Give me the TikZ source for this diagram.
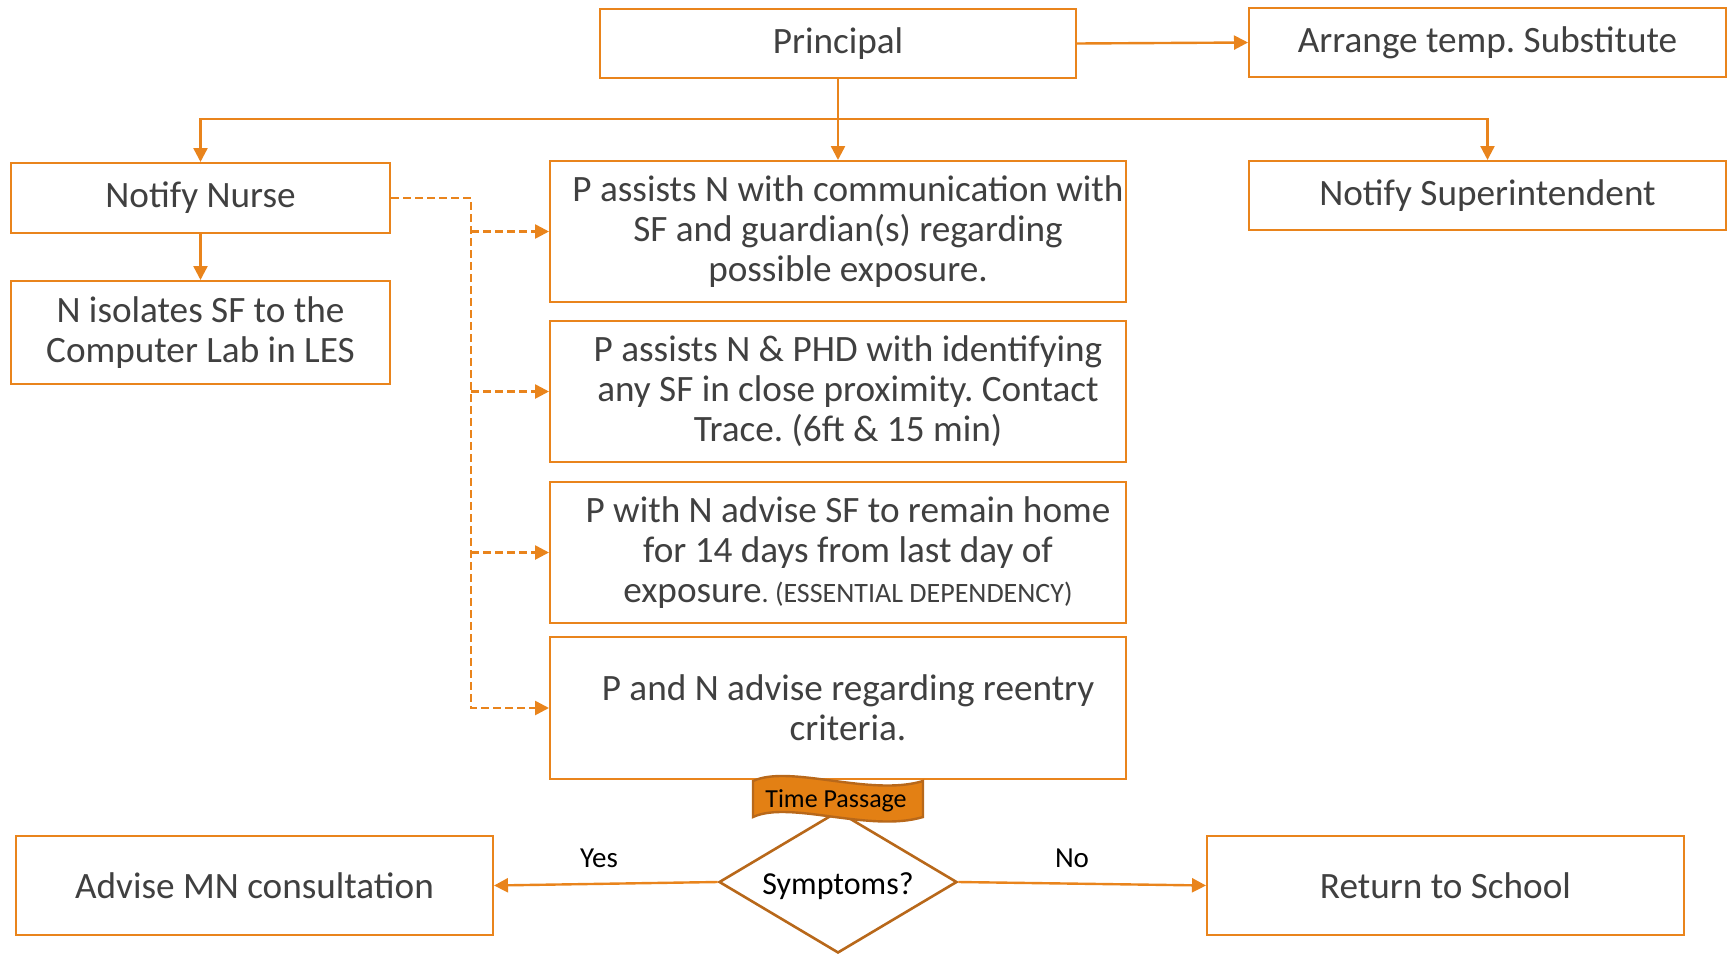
\documentclass[tikz,border=0pt]{standalone}
\usepackage{fontspec}
\setmainfont{Carlito}
\frenchspacing
\usetikzlibrary{arrows.meta,shapes.geometric}
\definecolor{orng}{RGB}{233,132,28}
\definecolor{brwn}{RGB}{184,104,26}
\definecolor{tapefill}{RGB}{227,128,20}
\definecolor{txtgray}{RGB}{64,64,64}
\begin{document}
\begin{tikzpicture}[x=0.5pt,y=-0.5pt,
  box/.style={draw=orng, line width=1pt, fill=white, inner sep=0pt, align=center,
    text=txtgray, font=\fontsize{18.6}{20}\selectfont},
  pbox/.style={box, minimum width=288pt, minimum height=70.5pt},
  ptext/.style={text=txtgray, align=center, inner sep=0pt, font=\fontsize{18.6}{20}\selectfont},
  conn/.style={draw=orng, line width=1.2pt, -{Triangle[length=7pt,width=7pt]}},
  dconn/.style={conn, dash pattern=on 4pt off 2pt, line width=1.3pt},
  lbl/.style={text=black, inner sep=0pt, font=\fontsize{14.5}{16}\selectfont}]
\useasboundingbox (0,0) rectangle (1729,953);

% top row
\node[box, minimum width=238pt, minimum height=34.5pt] (prin) at (838,43.5) {Principal};
\node[box, minimum width=238.5pt, minimum height=34.5pt] (sub) at (1487.5,42.5) {Arrange temp. Substitute};

% left column
\node[box, minimum width=189.5pt, minimum height=35pt] (nurse) at (200.5,198) {Notify Nurse};
\node[box, minimum width=189.5pt, minimum height=51.5pt] (iso) at (200.5,332.5) {N isolates SF to the\\Computer Lab in LES};

% right column
\node[box, minimum width=238.5pt, minimum height=34.5pt] (sup) at (1487.5,195.5) {Notify Superintendent};

% centre column of actions
\node[pbox, label={[ptext,xshift=5pt]center:{P assists N with communication with\\SF and guardian(s) regarding\\possible exposure.}}] (p1) at (838,231.5) {};
\node[pbox, label={[ptext,xshift=5pt]center:{P assists N \& PHD with identifying\\any SF in close proximity. Contact\\Trace. (6ft \& 15 min)}}] (p2) at (838,391.5) {};
\node[pbox, label={[ptext,xshift=5pt]center:{P with N advise SF to remain home\\for 14 days from last day of\\exposure{\fontsize{14}{16}\selectfont. (ESSENTIAL DEPENDENCY)}}}] (p3) at (838,552.5) {};
\node[pbox, minimum height=71pt, label={[ptext,xshift=5pt]center:{P and N advise regarding reentry\\criteria.}}] (p4) at (838,708) {};

% bottom row
\node[box, minimum width=238.5pt, minimum height=49.5pt] (mn) at (254.5,885.5) {Advise MN consultation};
\node[box, minimum width=238.5pt, minimum height=49.5pt] (ret) at (1445.5,885.5) {Return to School};

% decision
\node[draw=brwn, line width=1.3pt, fill=white, diamond, aspect=1.676, inner sep=0pt,
  minimum width=119pt, minimum height=71pt,
  label={[inner sep=0pt, yshift=-2.2pt, font=\fontsize{16}{18}\selectfont]center:Symptoms?}] (dec) at (838,882) {};

% time-passage tape
\draw[draw=brwn, fill=tapefill, line width=1.2pt]
  (753,781) .. controls (790,764) and (870,797) .. (923,781) -- (923,817)
  .. controls (870,833) and (790,800) .. (753,817) -- cycle;
\node[inner sep=0pt, font=\fontsize{13}{15}\selectfont] (tape) at (836,801) {Time Passage};

% connectors
\draw[conn] (prin.east) -- (sub.west);
\draw[conn] (prin.south) -- (p1.north);
\coordinate (br) at (838,119);
\draw[conn] (br) -| (nurse.north);
\draw[conn] (br) -| (sup.north);
\draw[conn] (nurse.south) -- (iso.north);

\coordinate (bus) at (471,198);
\draw[dconn] (nurse.east) -- (bus) |- (p4.west);
\foreach \b in {p1,p2,p3} \draw[dconn] (bus |- \b.west) -- (\b.west);

\draw[conn] (dec.west) -- (mn.east);
\draw[conn] (dec.east) -- (ret.west);
\node[lbl] (yes) at (599,858) {Yes};
\node[lbl] (no) at (1072,858) {No};
\end{tikzpicture}
\end{document}
